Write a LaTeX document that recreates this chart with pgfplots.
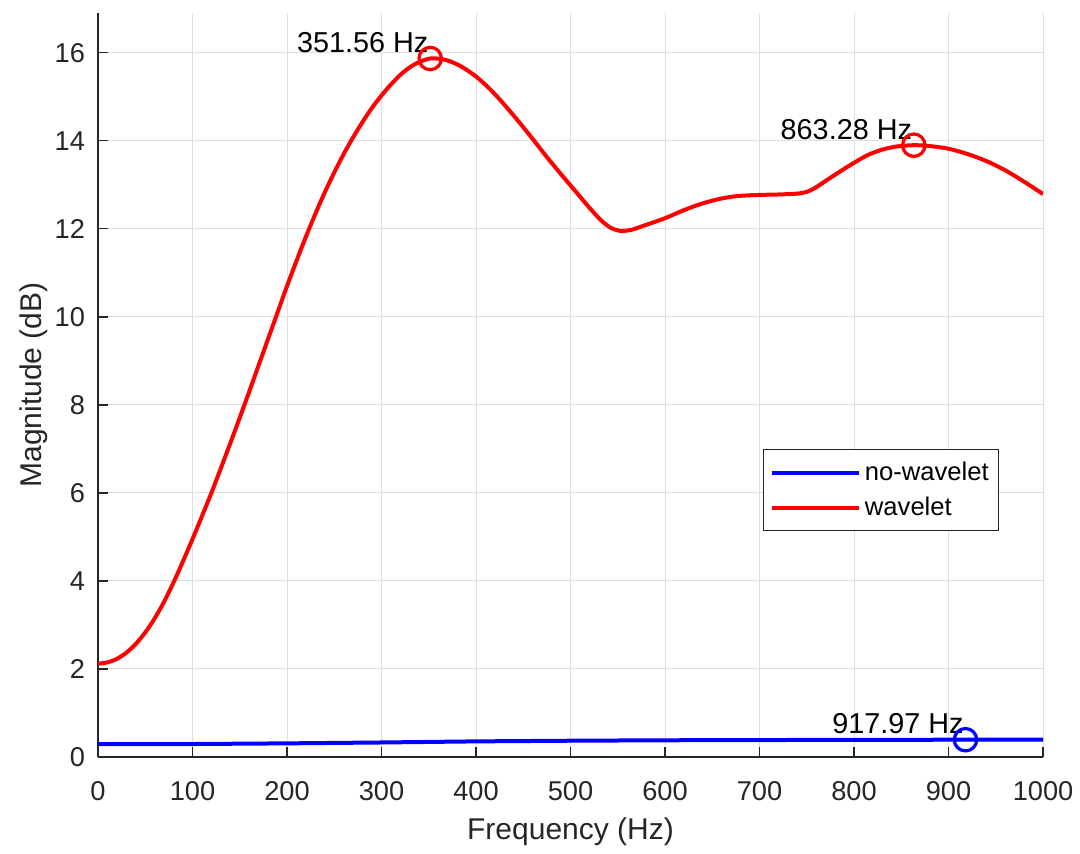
\documentclass[border=0pt]{standalone}
\usepackage{fontspec}
\setmainfont{Liberation Sans}
\usepackage{pgfplots}
\pgfplotsset{compat=1.18}
\definecolor{axgray}{HTML}{262626}
\definecolor{gridgray}{HTML}{DFDFDF}
\begin{document}
\begin{tikzpicture}
\begin{axis}[
  at={(0,0)}, anchor=south west,
  scale only axis, width=472.5pt, height=372.15pt,
  xmin=0, xmax=1000, ymin=0, ymax=16.91,
  axis x line*=bottom, axis y line*=left,
  axis line style={axgray, line width=0.65pt},
  xtick={0,100,...,1000}, ytick={0,2,...,16},
  scaled ticks=false,
  /pgf/number format/1000 sep={},
  tick align=inside, major tick length=5pt,
  tick style={axgray, line width=0.65pt},
  grid=major, major grid style={gridgray, line width=0.5pt},
  ticklabel style={font=\fontsize{13.6}{16}\selectfont, text=axgray},
  /pgf/number format/assume math mode=true,
  xticklabel style={yshift=-8.6pt},
  yticklabel style={xshift=-3pt},
  xlabel={Frequency (Hz)}, ylabel={Magnitude (dB)},
  label style={font=\fontsize{15}{18}\selectfont, text=axgray},
  xlabel style={at={(axis description cs:0.5,-0.1008)}, anchor=center},
  ylabel style={at={(axis description cs:-0.068,0.5)}, anchor=center},
  legend style={at={(axis description cs:0.704,0.4134)}, anchor=north west,
    draw=axgray, line width=0.5pt, fill=white,
    font=\fontsize{12.8}{15}\selectfont,
    inner xsep=3pt, inner ysep=4pt, row sep=3pt,
    nodes={inner sep=2pt},
    /tikz/every odd column/.append style={column sep=0pt},
    /tikz/every even column/.append style={column sep=4pt}},
  legend cell align=left,
  legend image code/.code={\draw[#1] (0pt,0pt) -- (43.6pt,0pt);},
]
\addplot[blue, line width=2pt] coordinates {
(0,0.29) (100,0.295) (200,0.31) (300,0.33) (400,0.355) (500,0.37)
(600,0.38) (700,0.385) (800,0.39) (917.97,0.393) (1000,0.395)};
\addlegendentry{no-wavelet}
\addplot[red, line width=2pt, smooth, tension=0.5] coordinates {
(0,2.12) (10,2.15) (20,2.23) (30,2.37) (40,2.57) (50,2.83) (60,3.15)
(70,3.53) (80,3.97) (90,4.45) (100,4.95) (110,5.47) (120,6.0) (130,6.56)
(140,7.13) (150,7.71) (160,8.3) (170,8.9) (180,9.5) (190,10.1) (200,10.7)
(210,11.27) (220,11.82) (230,12.34) (240,12.83) (250,13.28) (260,13.7)
(270,14.08) (280,14.43) (290,14.75) (300,15.03) (310,15.28) (320,15.5)
(330,15.67) (340,15.79) (351.56,15.87) (362,15.86) (372,15.81) (385,15.68)
(400,15.46) (415,15.17) (430,14.82) (445,14.44) (460,14.04) (475,13.63)
(490,13.24) (505,12.86) (520,12.48) (532,12.2) (542,12.03) (549,11.97)
(555,11.95) (565,11.98) (576,12.06)
(600,12.24) (615,12.38) (633,12.53) (650,12.64) (665,12.71) (680,12.75)
(700,12.77) (720,12.78) (740,12.8) (750,12.84) (758,12.92) (766,13.03)
(780,13.23) (800,13.5) (815,13.68) (830,13.8) (845,13.87) (863.28,13.9)
(880,13.88) (900,13.82) (920,13.7) (940,13.54) (960,13.33) (980,13.07)
(1000,12.79)};
\addlegendentry{wavelet}
\addplot[red, line width=1.6pt, only marks, mark=o, mark size=5.6pt, forget plot]
  coordinates {(351.56,15.87) (863.28,13.9)};
\addplot[blue, line width=1.6pt, only marks, mark=o, mark size=5.6pt, forget plot]
  coordinates {(917.97,0.393)};
\node[anchor=base east, inner sep=0pt, xshift=-0.7pt, yshift=3pt,
  font=\fontsize{14.4}{17}\selectfont] at (axis cs:351.56,15.87) {351.56 Hz};
\node[anchor=base east, inner sep=0pt, xshift=-0.7pt, yshift=3pt,
  font=\fontsize{14.4}{17}\selectfont] at (axis cs:863.28,13.9) {863.28 Hz};
\node[anchor=base east, inner sep=0pt, xshift=-0.7pt, yshift=3pt,
  font=\fontsize{14.4}{17}\selectfont] at (axis cs:917.97,0.393) {917.97 Hz};
\end{axis}
\pgfresetboundingbox
\path[use as bounding box] (-49pt,-48pt) rectangle (491pt,378.5pt);
\end{tikzpicture}
\end{document}
